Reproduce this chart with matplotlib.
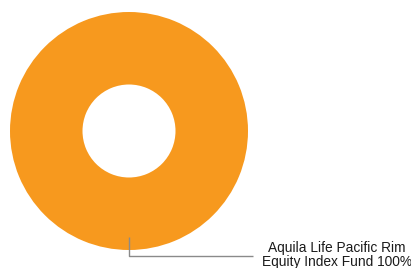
import matplotlib.pyplot as plt

funds = ["Aquila Life Pacific Rim\nEquity Index Fund 100%"]
shares = [100]
colors = ["#F7991E"]


def plot():
    plt.rcParams['font.family'] = ['Liberation Sans', 'DejaVu Sans']

    fig = plt.figure(figsize=(4.11, 2.68), dpi=100)
    ax = fig.add_axes([0, 0, 1, 1])

    # work in pixel units of the picture
    cx, cy, r, hole = 129, 131, 119, 46.5
    ax.pie(shares, colors=colors, center=(cx, cy), radius=r,
           startangle=90, counterclock=False,
           wedgeprops=dict(width=r - hole, linewidth=0))

    ax.set_xlim(0, 411)
    ax.set_ylim(268, 0)
    ax.set_aspect('equal')
    ax.axis('off')

    # leader line from bottom of the ring to the label
    ax.plot([cx - 0.5, cx - 0.5, 253], [cy + 106, cy + 125, cy + 125],
            color="#8a8a8a", lw=1.0, solid_capstyle='butt')
    ax.text(337, 241, funds[0], ha='center', va='top',
            fontsize=9.9, color="#1a1a1a", linespacing=1.0)

    fig.savefig("out.png", dpi=100)


if __name__ == "__main__":
    plot()
